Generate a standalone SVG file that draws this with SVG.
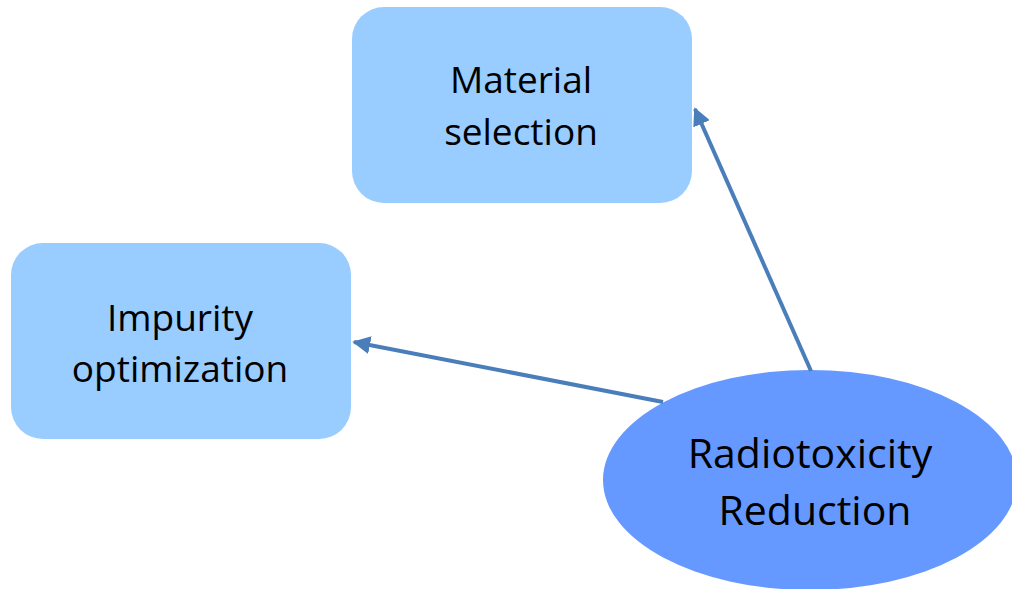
<svg xmlns="http://www.w3.org/2000/svg" width="1012" height="589" viewBox="0 0 1012 589">
  <style>
    .box { fill: #99CCFF; }
    .oval { fill: #6699FF; }
    .label { font-family: "Open Sans", "Noto Sans", sans-serif; fill: #000; text-anchor: middle; }
    .small { font-size: 37px; }
    .big { font-size: 41px; }
    .link { stroke: #4A7EBB; stroke-width: 4; fill: none; }
  </style>
  <defs>
    <marker id="head" viewBox="0 0 10 10" refX="9" refY="5" markerWidth="4.5" markerHeight="4.5" orient="auto" markerUnits="strokeWidth">
      <path d="M0,0 L10,5 L0,10 Z" fill="#4A7EBB"/>
    </marker>
  </defs>
  <rect width="1012" height="589" fill="#FFFFFF"/>

  <g id="material-selection">
    <rect class="box" x="352" y="7" width="340" height="196" rx="32" ry="32"/>
    <text class="label small" x="521" y="93">Material</text>
    <text class="label small" x="521" y="145">selection</text>
  </g>

  <g id="impurity-optimization">
    <rect class="box" x="11" y="243" width="340" height="196" rx="32" ry="32"/>
    <text class="label small" x="180" y="331">Impurity</text>
    <text class="label small" x="180" y="382">optimization</text>
  </g>

  <g id="radiotoxicity-reduction">
    <ellipse class="oval" cx="810" cy="480" rx="207" ry="110"/>
    <text class="label big" x="810" y="468">Radiotoxicity</text>
    <text class="label big" x="815" y="525">Reduction</text>
  </g>

  <g id="connectors">
    <line class="link" x1="663" y1="402" x2="354" y2="342" marker-end="url(#head)"/>
    <line class="link" x1="811" y1="371" x2="695" y2="109" marker-end="url(#head)"/>
  </g>
</svg>
